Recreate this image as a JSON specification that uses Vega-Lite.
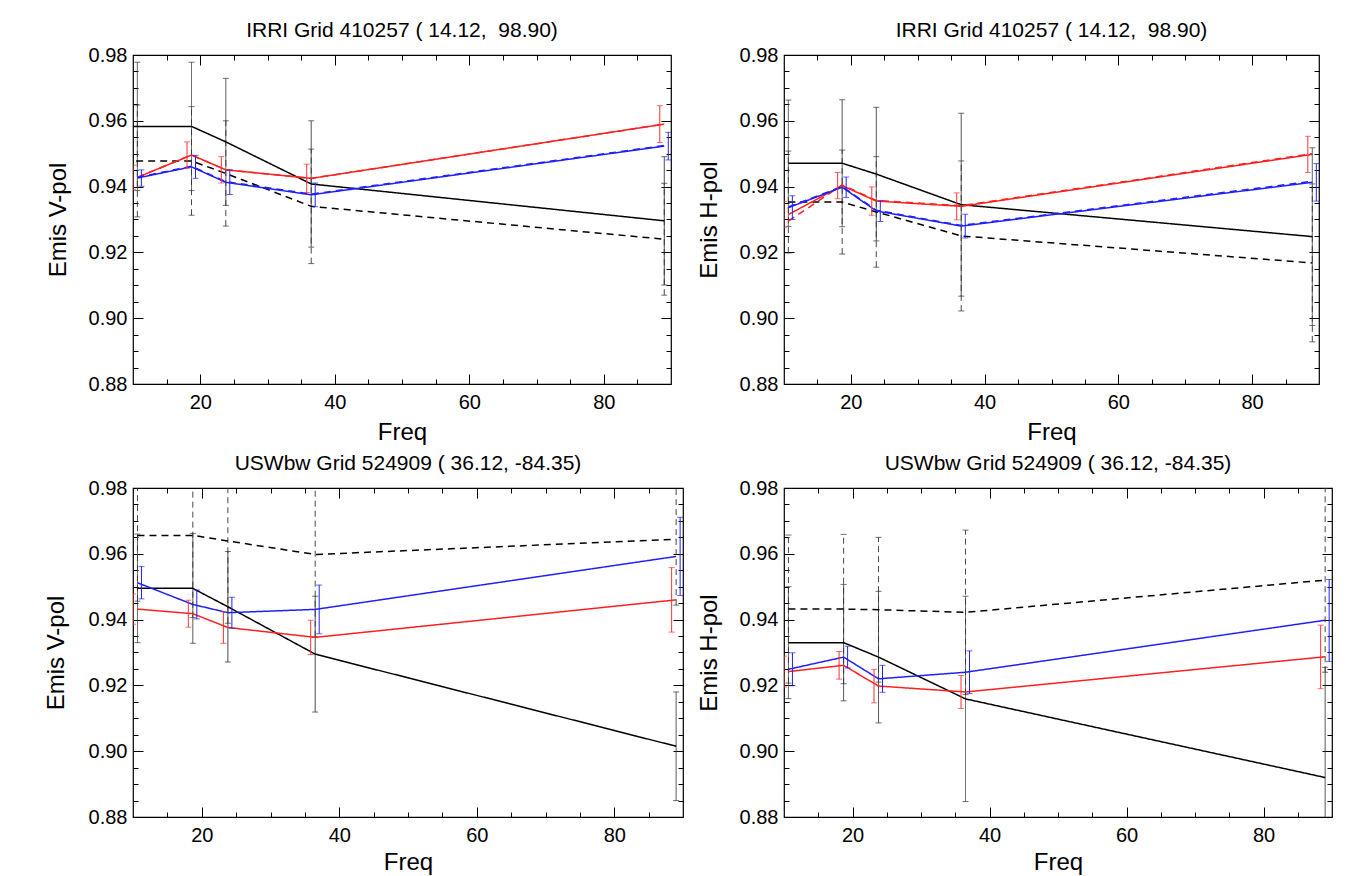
{
"$schema": "https://vega.github.io/schema/vega-lite/v6.json",
"background": "white",
"padding": {"left": 43, "top": 19, "right": 0, "bottom": 0},
"config": {
  "view": {"stroke": "#000", "strokeWidth": 1.2},
  "axis": {"domain": false, "grid": false, "tickColor": "#000", "tickWidth": 1, "labelFont": "Liberation Sans", "labelFontSize": 20, "labelColor": "#000", "titleFont": "Liberation Sans", "titleFontSize": 24, "titleFontWeight": "normal", "titleColor": "#000", "labelOverlap": false, "labelFlush": false},
  "title": {"font": "Liberation Sans", "fontSize": 21, "fontWeight": "normal", "color": "#000", "offset": 0}
},
"data": {"values": [
{"p":"TL","s":"ks","f":6.9,"v":0.9583},
{"p":"TL","s":"ks","f":10.65,"v":0.9583,"lo":0.9388,"hi":0.9778},
{"p":"TL","s":"ks","f":18.7,"v":0.9583,"lo":0.9388,"hi":0.9778},
{"p":"TL","s":"ks","f":23.8,"v":0.9536,"lo":0.9343,"hi":0.9729},
{"p":"TL","s":"ks","f":36.5,"v":0.9408,"lo":0.9216,"hi":0.96},
{"p":"TL","s":"ks","f":89,"v":0.9296,"lo":0.9101,"hi":0.9491},
{"p":"TL","s":"kd","f":6.9,"v":0.9478},
{"p":"TL","s":"kd","f":10.65,"v":0.9478,"lo":0.9308,"hi":0.9648},
{"p":"TL","s":"kd","f":18.7,"v":0.9478,"lo":0.9313,"hi":0.9643},
{"p":"TL","s":"kd","f":23.8,"v":0.944,"lo":0.928,"hi":0.96},
{"p":"TL","s":"kd","f":36.5,"v":0.934,"lo":0.9166,"hi":0.9514},
{"p":"TL","s":"kd","f":89,"v":0.924,"lo":0.907,"hi":0.941},
{"p":"TL","s":"rs","f":10.65,"v":0.9428,"lo":0.9391,"hi":0.9465},
{"p":"TL","s":"rs","f":18.7,"v":0.9496,"lo":0.9456,"hi":0.9536},
{"p":"TL","s":"rs","f":23.8,"v":0.9451,"lo":0.9411,"hi":0.9491},
{"p":"TL","s":"rs","f":36.5,"v":0.9425,"lo":0.9382,"hi":0.9468},
{"p":"TL","s":"rs","f":89,"v":0.959,"lo":0.9534,"hi":0.9646},
{"p":"TL","s":"rd","f":10.65,"v":0.9428},
{"p":"TL","s":"rd","f":18.7,"v":0.9496},
{"p":"TL","s":"rd","f":23.8,"v":0.9451},
{"p":"TL","s":"rd","f":36.5,"v":0.9425},
{"p":"TL","s":"rd","f":89,"v":0.959},
{"p":"TL","s":"bs","f":10.65,"v":0.9426,"lo":0.9401,"hi":0.9451},
{"p":"TL","s":"bs","f":18.7,"v":0.946,"lo":0.9425,"hi":0.9495},
{"p":"TL","s":"bs","f":23.8,"v":0.9413,"lo":0.9376,"hi":0.945},
{"p":"TL","s":"bs","f":36.5,"v":0.9375,"lo":0.9339,"hi":0.9411},
{"p":"TL","s":"bs","f":89,"v":0.9523,"lo":0.9481,"hi":0.9565},
{"p":"TL","s":"bd","f":10.65,"v":0.9428},
{"p":"TL","s":"bd","f":18.7,"v":0.9462},
{"p":"TL","s":"bd","f":23.8,"v":0.9415},
{"p":"TL","s":"bd","f":36.5,"v":0.9377},
{"p":"TL","s":"bd","f":89,"v":0.9525},

{"p":"TR","s":"ks","f":10.65,"v":0.9471,"lo":0.9279,"hi":0.9663},
{"p":"TR","s":"ks","f":18.7,"v":0.9471,"lo":0.9278,"hi":0.9664},
{"p":"TR","s":"ks","f":23.8,"v":0.9438,"lo":0.9235,"hi":0.9641},
{"p":"TR","s":"ks","f":36.5,"v":0.9345,"lo":0.9067,"hi":0.9623},
{"p":"TR","s":"ks","f":89,"v":0.9248,"lo":0.8978,"hi":0.9518},
{"p":"TR","s":"kd","f":10.65,"v":0.9353,"lo":0.9198,"hi":0.9508},
{"p":"TR","s":"kd","f":18.7,"v":0.9353,"lo":0.9195,"hi":0.9511},
{"p":"TR","s":"kd","f":23.8,"v":0.9323,"lo":0.9155,"hi":0.9491},
{"p":"TR","s":"kd","f":36.5,"v":0.925,"lo":0.9022,"hi":0.9478},
{"p":"TR","s":"kd","f":89,"v":0.9168,"lo":0.8928,"hi":0.9408},
{"p":"TR","s":"rs","f":10.65,"v":0.9315,"lo":0.9275,"hi":0.9355},
{"p":"TR","s":"rs","f":18.7,"v":0.9403,"lo":0.9363,"hi":0.9443},
{"p":"TR","s":"rs","f":23.8,"v":0.9356,"lo":0.9313,"hi":0.9399},
{"p":"TR","s":"rs","f":36.5,"v":0.934,"lo":0.9299,"hi":0.9381},
{"p":"TR","s":"rs","f":89,"v":0.9498,"lo":0.9443,"hi":0.9553},
{"p":"TR","s":"rd","f":10.65,"v":0.9295},
{"p":"TR","s":"rd","f":18.7,"v":0.9405},
{"p":"TR","s":"rd","f":23.8,"v":0.9358},
{"p":"TR","s":"rd","f":36.5,"v":0.9342},
{"p":"TR","s":"rd","f":89,"v":0.95},
{"p":"TR","s":"bs","f":10.65,"v":0.9336,"lo":0.93,"hi":0.9372},
{"p":"TR","s":"bs","f":18.7,"v":0.9398,"lo":0.9367,"hi":0.9429},
{"p":"TR","s":"bs","f":23.8,"v":0.9326,"lo":0.9294,"hi":0.9358},
{"p":"TR","s":"bs","f":36.5,"v":0.928,"lo":0.9244,"hi":0.9316},
{"p":"TR","s":"bs","f":89,"v":0.9413,"lo":0.9356,"hi":0.947},
{"p":"TR","s":"bd","f":10.65,"v":0.9338},
{"p":"TR","s":"bd","f":18.7,"v":0.94},
{"p":"TR","s":"bd","f":23.8,"v":0.9328},
{"p":"TR","s":"bd","f":36.5,"v":0.9282},
{"p":"TR","s":"bd","f":89,"v":0.9416},

{"p":"BL","s":"ks","f":10.65,"v":0.9495,"lo":0.933,"hi":0.966},
{"p":"BL","s":"ks","f":18.7,"v":0.9495,"lo":0.9328,"hi":0.9662},
{"p":"BL","s":"ks","f":23.8,"v":0.9439,"lo":0.9271,"hi":0.9607},
{"p":"BL","s":"ks","f":36.5,"v":0.9295,"lo":0.9119,"hi":0.9471},
{"p":"BL","s":"ks","f":89,"v":0.9015,"lo":0.885,"hi":0.918},
{"p":"BL","s":"kd","f":10.65,"v":0.9656,"lo":0.9456,"hi":0.9856},
{"p":"BL","s":"kd","f":18.7,"v":0.9656,"lo":0.9406,"hi":0.9906},
{"p":"BL","s":"kd","f":23.8,"v":0.9639,"lo":0.9389,"hi":0.9889},
{"p":"BL","s":"kd","f":36.5,"v":0.9598,"lo":0.9348,"hi":0.9848},
{"p":"BL","s":"kd","f":89,"v":0.9644,"lo":0.9444,"hi":0.9844},
{"p":"BL","s":"rs","f":10.65,"v":0.9432,"lo":0.9386,"hi":0.9478},
{"p":"BL","s":"rs","f":18.7,"v":0.9418,"lo":0.9377,"hi":0.9459},
{"p":"BL","s":"rs","f":23.8,"v":0.9376,"lo":0.9328,"hi":0.9424},
{"p":"BL","s":"rs","f":36.5,"v":0.9346,"lo":0.9294,"hi":0.9398},
{"p":"BL","s":"rs","f":89,"v":0.946,"lo":0.9362,"hi":0.9558},
{"p":"BL","s":"bs","f":10.65,"v":0.9512,"lo":0.9463,"hi":0.9561},
{"p":"BL","s":"bs","f":18.7,"v":0.9446,"lo":0.9402,"hi":0.949},
{"p":"BL","s":"bs","f":23.8,"v":0.9421,"lo":0.9374,"hi":0.9468},
{"p":"BL","s":"bs","f":36.5,"v":0.9431,"lo":0.9357,"hi":0.9505},
{"p":"BL","s":"bs","f":89,"v":0.9592,"lo":0.9473,"hi":0.9711},

{"p":"BR","s":"ks","f":10.65,"v":0.933,"lo":0.916,"hi":0.95},
{"p":"BR","s":"ks","f":18.7,"v":0.933,"lo":0.9153,"hi":0.9507},
{"p":"BR","s":"ks","f":23.8,"v":0.9286,"lo":0.9086,"hi":0.9486},
{"p":"BR","s":"ks","f":36.5,"v":0.9159,"lo":0.8847,"hi":0.9471},
{"p":"BR","s":"ks","f":89,"v":0.892,"lo":0.8585,"hi":0.9255},
{"p":"BR","s":"kd","f":10.65,"v":0.9432,"lo":0.9207,"hi":0.9657},
{"p":"BR","s":"kd","f":18.7,"v":0.9432,"lo":0.9205,"hi":0.9659},
{"p":"BR","s":"kd","f":23.8,"v":0.943,"lo":0.921,"hi":0.965},
{"p":"BR","s":"kd","f":36.5,"v":0.9422,"lo":0.9172,"hi":0.9672},
{"p":"BR","s":"kd","f":89,"v":0.952,"lo":0.924,"hi":0.98},
{"p":"BR","s":"rs","f":10.65,"v":0.9242,"lo":0.9195,"hi":0.9289},
{"p":"BR","s":"rs","f":18.7,"v":0.9261,"lo":0.9219,"hi":0.9303},
{"p":"BR","s":"rs","f":23.8,"v":0.9198,"lo":0.9147,"hi":0.9249},
{"p":"BR","s":"rs","f":36.5,"v":0.918,"lo":0.913,"hi":0.923},
{"p":"BR","s":"rs","f":89,"v":0.9287,"lo":0.919,"hi":0.9383},
{"p":"BR","s":"bs","f":10.65,"v":0.9249,"lo":0.9199,"hi":0.9299},
{"p":"BR","s":"bs","f":18.7,"v":0.9286,"lo":0.9253,"hi":0.9319},
{"p":"BR","s":"bs","f":23.8,"v":0.922,"lo":0.9179,"hi":0.9261},
{"p":"BR","s":"bs","f":36.5,"v":0.924,"lo":0.9175,"hi":0.9305},
{"p":"BR","s":"bs","f":89,"v":0.9398,"lo":0.9273,"hi":0.9522}
]},
"columns": 2,
"align": "none",
"spacing": {"row": 7, "column": 11},
"concat": [
{
 "width": 538, "height": 329,
 "title": "IRRI Grid 410257 ( 14.12, \u00a098.90)",
 "transform": [{"filter": "datum.p == 'TL'"}],
 "resolve": {"axis": {"x": "independent", "y": "independent"}},
 "layer": [
  {"transform": [{"filter": "(datum.s == 'ks' || datum.s == 'kd') && isValid(datum.lo)"}],
   "mark": {"type": "rule", "clip": true, "strokeWidth": 0.9, "color": "#333333"},
   "encoding": {
    "x": {"field": "f", "type": "quantitative", "scale": {"domain": [10, 90], "nice": false, "zero": false}, "axis": {"orient": "top", "values": [15,20,25,30,35,40,45,50,55,60,65,70,75,80,85], "tickSize": {"condition": {"test": "datum.value % 20 == 0", "value": -10}, "value": -5}, "labels": false, "title": null}},
    "y": {"field": "lo", "type": "quantitative", "scale": {"domain": [0.88, 0.98], "nice": false, "zero": false}, "axis": {"orient": "right", "values": [0.885,0.89,0.895,0.9,0.905,0.91,0.915,0.92,0.925,0.93,0.935,0.94,0.945,0.95,0.955,0.96,0.965,0.97,0.975], "tickSize": {"condition": {"test": "round(datum.value*1000) % 20 == 0", "value": -10}, "value": -5}, "labels": false, "title": null}},
    "y2": {"field": "hi"},
    "strokeDash": {"condition": {"test": "datum.s == 'kd'", "value": [6, 4]}, "value": [1, 0]}
   }},
  {"transform": [{"filter": "(datum.s == 'ks' || datum.s == 'kd') && isValid(datum.lo)"}, {"fold": ["lo", "hi"], "as": ["side", "e"]}],
   "mark": {"type": "tick", "orient": "horizontal", "clip": true, "size": 6, "thickness": 1, "color": "#333333"},
   "encoding": {
    "x": {"field": "f", "type": "quantitative", "scale": {"domain": [10, 90], "nice": false, "zero": false}, "axis": null},
    "y": {"field": "e", "type": "quantitative", "scale": {"domain": [0.88, 0.98], "nice": false, "zero": false}, "axis": null}
   }},
  {"mark": {"type": "line", "clip": true, "strokeWidth": 1.5},
   "encoding": {
    "x": {"field": "f", "type": "quantitative", "scale": {"domain": [10, 90], "nice": false, "zero": false}, "axis": {"orient": "bottom", "values": [15,20,25,30,35,40,45,50,55,60,65,70,75,80,85], "tickSize": {"condition": {"test": "datum.value % 20 == 0", "value": -10}, "value": -5}, "labelExpr": "datum.value % 20 == 0 ? datum.label : ''", "labelPadding": 18, "title": "Freq", "titlePadding": 3}},
    "y": {"field": "v", "type": "quantitative", "scale": {"domain": [0.88, 0.98], "nice": false, "zero": false}, "axis": {"orient": "left", "values": [0.88,0.885,0.89,0.895,0.9,0.905,0.91,0.915,0.92,0.925,0.93,0.935,0.94,0.945,0.95,0.955,0.96,0.965,0.97,0.975,0.98], "tickSize": {"condition": {"test": "round(datum.value*1000) % 20 == 0", "value": -10}, "value": -5}, "labelExpr": "round(datum.value*1000) % 20 == 0 ? format(datum.value, '.2f') : ''", "labelPadding": 16, "title": "Emis V-pol", "titlePadding": 18}},
    "color": {"field": "s", "type": "nominal", "scale": {"domain": ["ks","kd","rs","rd","bs","bd"], "range": ["#000000","#000000","#ff2020","#ff2020","#2020ff","#2020ff"]}, "legend": null},
    "strokeDash": {"field": "s", "type": "nominal", "scale": {"domain": ["ks","kd","rs","rd","bs","bd"], "range": [[1,0],[7,5],[1,0],[7,5],[1,0],[7,5]]}, "legend": null}
   }},
  {"transform": [{"filter": "datum.s == 'rs' && isValid(datum.lo)"}],
   "mark": {"type": "rule", "clip": true, "strokeWidth": 1, "color": "#ff3030", "xOffset": -4.5},
   "encoding": {
    "x": {"field": "f", "type": "quantitative", "scale": {"domain": [10, 90], "nice": false, "zero": false}, "axis": null},
    "y": {"field": "lo", "type": "quantitative", "scale": {"domain": [0.88, 0.98], "nice": false, "zero": false}, "axis": null},
    "y2": {"field": "hi"}
   }},
  {"transform": [{"filter": "datum.s == 'rs' && isValid(datum.lo)"}, {"fold": ["lo", "hi"], "as": ["side", "e"]}],
   "mark": {"type": "tick", "orient": "horizontal", "clip": true, "size": 6, "thickness": 1, "color": "#ff3030", "xOffset": -4.5},
   "encoding": {
    "x": {"field": "f", "type": "quantitative", "scale": {"domain": [10, 90], "nice": false, "zero": false}, "axis": null},
    "y": {"field": "e", "type": "quantitative", "scale": {"domain": [0.88, 0.98], "nice": false, "zero": false}, "axis": null}
   }},
  {"transform": [{"filter": "datum.s == 'bs' && isValid(datum.lo)"}],
   "mark": {"type": "rule", "clip": true, "strokeWidth": 1, "color": "#2020ff", "xOffset": 4},
   "encoding": {
    "x": {"field": "f", "type": "quantitative", "scale": {"domain": [10, 90], "nice": false, "zero": false}, "axis": null},
    "y": {"field": "lo", "type": "quantitative", "scale": {"domain": [0.88, 0.98], "nice": false, "zero": false}, "axis": null},
    "y2": {"field": "hi"}
   }},
  {"transform": [{"filter": "datum.s == 'bs' && isValid(datum.lo)"}, {"fold": ["lo", "hi"], "as": ["side", "e"]}],
   "mark": {"type": "tick", "orient": "horizontal", "clip": true, "size": 6, "thickness": 1, "color": "#2020ff", "xOffset": 4},
   "encoding": {
    "x": {"field": "f", "type": "quantitative", "scale": {"domain": [10, 90], "nice": false, "zero": false}, "axis": null},
    "y": {"field": "e", "type": "quantitative", "scale": {"domain": [0.88, 0.98], "nice": false, "zero": false}, "axis": null}
   }}
 ]
},
{
 "width": 535, "height": 329,
 "title": "IRRI Grid 410257 ( 14.12, \u00a098.90)",
 "transform": [{"filter": "datum.p == 'TR'"}],
 "resolve": {"axis": {"x": "independent", "y": "independent"}},
 "layer": [
  {"transform": [{"filter": "(datum.s == 'ks' || datum.s == 'kd') && isValid(datum.lo)"}],
   "mark": {"type": "rule", "clip": true, "strokeWidth": 0.9, "color": "#333333"},
   "encoding": {
    "x": {"field": "f", "type": "quantitative", "scale": {"domain": [10, 90], "nice": false, "zero": false}, "axis": {"orient": "top", "values": [15,20,25,30,35,40,45,50,55,60,65,70,75,80,85], "tickSize": {"condition": {"test": "datum.value % 20 == 0", "value": -10}, "value": -5}, "labels": false, "title": null}},
    "y": {"field": "lo", "type": "quantitative", "scale": {"domain": [0.88, 0.98], "nice": false, "zero": false}, "axis": {"orient": "right", "values": [0.885,0.89,0.895,0.9,0.905,0.91,0.915,0.92,0.925,0.93,0.935,0.94,0.945,0.95,0.955,0.96,0.965,0.97,0.975], "tickSize": {"condition": {"test": "round(datum.value*1000) % 20 == 0", "value": -10}, "value": -5}, "labels": false, "title": null}},
    "y2": {"field": "hi"},
    "strokeDash": {"condition": {"test": "datum.s == 'kd'", "value": [6, 4]}, "value": [1, 0]}
   }},
  {"transform": [{"filter": "(datum.s == 'ks' || datum.s == 'kd') && isValid(datum.lo)"}, {"fold": ["lo", "hi"], "as": ["side", "e"]}],
   "mark": {"type": "tick", "orient": "horizontal", "clip": true, "size": 6, "thickness": 1, "color": "#333333"},
   "encoding": {
    "x": {"field": "f", "type": "quantitative", "scale": {"domain": [10, 90], "nice": false, "zero": false}, "axis": null},
    "y": {"field": "e", "type": "quantitative", "scale": {"domain": [0.88, 0.98], "nice": false, "zero": false}, "axis": null}
   }},
  {"mark": {"type": "line", "clip": true, "strokeWidth": 1.5},
   "encoding": {
    "x": {"field": "f", "type": "quantitative", "scale": {"domain": [10, 90], "nice": false, "zero": false}, "axis": {"orient": "bottom", "values": [15,20,25,30,35,40,45,50,55,60,65,70,75,80,85], "tickSize": {"condition": {"test": "datum.value % 20 == 0", "value": -10}, "value": -5}, "labelExpr": "datum.value % 20 == 0 ? datum.label : ''", "labelPadding": 18, "title": "Freq", "titlePadding": 3}},
    "y": {"field": "v", "type": "quantitative", "scale": {"domain": [0.88, 0.98], "nice": false, "zero": false}, "axis": {"orient": "left", "values": [0.88,0.885,0.89,0.895,0.9,0.905,0.91,0.915,0.92,0.925,0.93,0.935,0.94,0.945,0.95,0.955,0.96,0.965,0.97,0.975,0.98], "tickSize": {"condition": {"test": "round(datum.value*1000) % 20 == 0", "value": -10}, "value": -5}, "labelExpr": "round(datum.value*1000) % 20 == 0 ? format(datum.value, '.2f') : ''", "labelPadding": 16, "title": "Emis H-pol", "titlePadding": 18}},
    "color": {"field": "s", "type": "nominal", "scale": {"domain": ["ks","kd","rs","rd","bs","bd"], "range": ["#000000","#000000","#ff2020","#ff2020","#2020ff","#2020ff"]}, "legend": null},
    "strokeDash": {"field": "s", "type": "nominal", "scale": {"domain": ["ks","kd","rs","rd","bs","bd"], "range": [[1,0],[7,5],[1,0],[7,5],[1,0],[7,5]]}, "legend": null}
   }},
  {"transform": [{"filter": "datum.s == 'rs' && isValid(datum.lo)"}],
   "mark": {"type": "rule", "clip": true, "strokeWidth": 1, "color": "#ff3030", "xOffset": -4.5},
   "encoding": {
    "x": {"field": "f", "type": "quantitative", "scale": {"domain": [10, 90], "nice": false, "zero": false}, "axis": null},
    "y": {"field": "lo", "type": "quantitative", "scale": {"domain": [0.88, 0.98], "nice": false, "zero": false}, "axis": null},
    "y2": {"field": "hi"}
   }},
  {"transform": [{"filter": "datum.s == 'rs' && isValid(datum.lo)"}, {"fold": ["lo", "hi"], "as": ["side", "e"]}],
   "mark": {"type": "tick", "orient": "horizontal", "clip": true, "size": 6, "thickness": 1, "color": "#ff3030", "xOffset": -4.5},
   "encoding": {
    "x": {"field": "f", "type": "quantitative", "scale": {"domain": [10, 90], "nice": false, "zero": false}, "axis": null},
    "y": {"field": "e", "type": "quantitative", "scale": {"domain": [0.88, 0.98], "nice": false, "zero": false}, "axis": null}
   }},
  {"transform": [{"filter": "datum.s == 'bs' && isValid(datum.lo)"}],
   "mark": {"type": "rule", "clip": true, "strokeWidth": 1, "color": "#2020ff", "xOffset": 4},
   "encoding": {
    "x": {"field": "f", "type": "quantitative", "scale": {"domain": [10, 90], "nice": false, "zero": false}, "axis": null},
    "y": {"field": "lo", "type": "quantitative", "scale": {"domain": [0.88, 0.98], "nice": false, "zero": false}, "axis": null},
    "y2": {"field": "hi"}
   }},
  {"transform": [{"filter": "datum.s == 'bs' && isValid(datum.lo)"}, {"fold": ["lo", "hi"], "as": ["side", "e"]}],
   "mark": {"type": "tick", "orient": "horizontal", "clip": true, "size": 6, "thickness": 1, "color": "#2020ff", "xOffset": 4},
   "encoding": {
    "x": {"field": "f", "type": "quantitative", "scale": {"domain": [10, 90], "nice": false, "zero": false}, "axis": null},
    "y": {"field": "e", "type": "quantitative", "scale": {"domain": [0.88, 0.98], "nice": false, "zero": false}, "axis": null}
   }}
 ]
},
{
 "width": 550, "height": 329,
 "title": "USWbw Grid 524909 ( 36.12, -84.35)",
 "transform": [{"filter": "datum.p == 'BL'"}],
 "resolve": {"axis": {"x": "independent", "y": "independent"}},
 "layer": [
  {"transform": [{"filter": "(datum.s == 'ks' || datum.s == 'kd') && isValid(datum.lo)"}],
   "mark": {"type": "rule", "clip": true, "strokeWidth": 0.9, "color": "#333333"},
   "encoding": {
    "x": {"field": "f", "type": "quantitative", "scale": {"domain": [10, 90], "nice": false, "zero": false}, "axis": {"orient": "top", "values": [15,20,25,30,35,40,45,50,55,60,65,70,75,80,85], "tickSize": {"condition": {"test": "datum.value % 20 == 0", "value": -10}, "value": -5}, "labels": false, "title": null}},
    "y": {"field": "lo", "type": "quantitative", "scale": {"domain": [0.88, 0.98], "nice": false, "zero": false}, "axis": {"orient": "right", "values": [0.885,0.89,0.895,0.9,0.905,0.91,0.915,0.92,0.925,0.93,0.935,0.94,0.945,0.95,0.955,0.96,0.965,0.97,0.975], "tickSize": {"condition": {"test": "round(datum.value*1000) % 20 == 0", "value": -10}, "value": -5}, "labels": false, "title": null}},
    "y2": {"field": "hi"},
    "strokeDash": {"condition": {"test": "datum.s == 'kd'", "value": [6, 4]}, "value": [1, 0]}
   }},
  {"transform": [{"filter": "(datum.s == 'ks' || datum.s == 'kd') && isValid(datum.lo)"}, {"fold": ["lo", "hi"], "as": ["side", "e"]}],
   "mark": {"type": "tick", "orient": "horizontal", "clip": true, "size": 6, "thickness": 1, "color": "#333333"},
   "encoding": {
    "x": {"field": "f", "type": "quantitative", "scale": {"domain": [10, 90], "nice": false, "zero": false}, "axis": null},
    "y": {"field": "e", "type": "quantitative", "scale": {"domain": [0.88, 0.98], "nice": false, "zero": false}, "axis": null}
   }},
  {"mark": {"type": "line", "clip": true, "strokeWidth": 1.5},
   "encoding": {
    "x": {"field": "f", "type": "quantitative", "scale": {"domain": [10, 90], "nice": false, "zero": false}, "axis": {"orient": "bottom", "values": [15,20,25,30,35,40,45,50,55,60,65,70,75,80,85], "tickSize": {"condition": {"test": "datum.value % 20 == 0", "value": -10}, "value": -5}, "labelExpr": "datum.value % 20 == 0 ? datum.label : ''", "labelPadding": 18, "title": "Freq", "titlePadding": 0}},
    "y": {"field": "v", "type": "quantitative", "scale": {"domain": [0.88, 0.98], "nice": false, "zero": false}, "axis": {"orient": "left", "values": [0.88,0.885,0.89,0.895,0.9,0.905,0.91,0.915,0.92,0.925,0.93,0.935,0.94,0.945,0.95,0.955,0.96,0.965,0.97,0.975,0.98], "tickSize": {"condition": {"test": "round(datum.value*1000) % 20 == 0", "value": -10}, "value": -5}, "labelExpr": "round(datum.value*1000) % 20 == 0 ? format(datum.value, '.2f') : ''", "labelPadding": 16, "title": "Emis V-pol", "titlePadding": 20}},
    "color": {"field": "s", "type": "nominal", "scale": {"domain": ["ks","kd","rs","rd","bs","bd"], "range": ["#000000","#000000","#ff2020","#ff2020","#2020ff","#2020ff"]}, "legend": null},
    "strokeDash": {"field": "s", "type": "nominal", "scale": {"domain": ["ks","kd","rs","rd","bs","bd"], "range": [[1,0],[7,5],[1,0],[7,5],[1,0],[7,5]]}, "legend": null}
   }},
  {"transform": [{"filter": "datum.s == 'rs' && isValid(datum.lo)"}],
   "mark": {"type": "rule", "clip": true, "strokeWidth": 1, "color": "#ff3030", "xOffset": -4.5},
   "encoding": {
    "x": {"field": "f", "type": "quantitative", "scale": {"domain": [10, 90], "nice": false, "zero": false}, "axis": null},
    "y": {"field": "lo", "type": "quantitative", "scale": {"domain": [0.88, 0.98], "nice": false, "zero": false}, "axis": null},
    "y2": {"field": "hi"}
   }},
  {"transform": [{"filter": "datum.s == 'rs' && isValid(datum.lo)"}, {"fold": ["lo", "hi"], "as": ["side", "e"]}],
   "mark": {"type": "tick", "orient": "horizontal", "clip": true, "size": 6, "thickness": 1, "color": "#ff3030", "xOffset": -4.5},
   "encoding": {
    "x": {"field": "f", "type": "quantitative", "scale": {"domain": [10, 90], "nice": false, "zero": false}, "axis": null},
    "y": {"field": "e", "type": "quantitative", "scale": {"domain": [0.88, 0.98], "nice": false, "zero": false}, "axis": null}
   }},
  {"transform": [{"filter": "datum.s == 'bs' && isValid(datum.lo)"}],
   "mark": {"type": "rule", "clip": true, "strokeWidth": 1, "color": "#2020ff", "xOffset": 4},
   "encoding": {
    "x": {"field": "f", "type": "quantitative", "scale": {"domain": [10, 90], "nice": false, "zero": false}, "axis": null},
    "y": {"field": "lo", "type": "quantitative", "scale": {"domain": [0.88, 0.98], "nice": false, "zero": false}, "axis": null},
    "y2": {"field": "hi"}
   }},
  {"transform": [{"filter": "datum.s == 'bs' && isValid(datum.lo)"}, {"fold": ["lo", "hi"], "as": ["side", "e"]}],
   "mark": {"type": "tick", "orient": "horizontal", "clip": true, "size": 6, "thickness": 1, "color": "#2020ff", "xOffset": 4},
   "encoding": {
    "x": {"field": "f", "type": "quantitative", "scale": {"domain": [10, 90], "nice": false, "zero": false}, "axis": null},
    "y": {"field": "e", "type": "quantitative", "scale": {"domain": [0.88, 0.98], "nice": false, "zero": false}, "axis": null}
   }}
 ]
},
{
 "width": 548, "height": 329,
 "title": "USWbw Grid 524909 ( 36.12, -84.35)",
 "transform": [{"filter": "datum.p == 'BR'"}],
 "resolve": {"axis": {"x": "independent", "y": "independent"}},
 "layer": [
  {"transform": [{"filter": "(datum.s == 'ks' || datum.s == 'kd') && isValid(datum.lo)"}],
   "mark": {"type": "rule", "clip": true, "strokeWidth": 0.9, "color": "#333333"},
   "encoding": {
    "x": {"field": "f", "type": "quantitative", "scale": {"domain": [10, 90], "nice": false, "zero": false}, "axis": {"orient": "top", "values": [15,20,25,30,35,40,45,50,55,60,65,70,75,80,85], "tickSize": {"condition": {"test": "datum.value % 20 == 0", "value": -10}, "value": -5}, "labels": false, "title": null}},
    "y": {"field": "lo", "type": "quantitative", "scale": {"domain": [0.88, 0.98], "nice": false, "zero": false}, "axis": {"orient": "right", "values": [0.885,0.89,0.895,0.9,0.905,0.91,0.915,0.92,0.925,0.93,0.935,0.94,0.945,0.95,0.955,0.96,0.965,0.97,0.975], "tickSize": {"condition": {"test": "round(datum.value*1000) % 20 == 0", "value": -10}, "value": -5}, "labels": false, "title": null}},
    "y2": {"field": "hi"},
    "strokeDash": {"condition": {"test": "datum.s == 'kd'", "value": [6, 4]}, "value": [1, 0]}
   }},
  {"transform": [{"filter": "(datum.s == 'ks' || datum.s == 'kd') && isValid(datum.lo)"}, {"fold": ["lo", "hi"], "as": ["side", "e"]}],
   "mark": {"type": "tick", "orient": "horizontal", "clip": true, "size": 6, "thickness": 1, "color": "#333333"},
   "encoding": {
    "x": {"field": "f", "type": "quantitative", "scale": {"domain": [10, 90], "nice": false, "zero": false}, "axis": null},
    "y": {"field": "e", "type": "quantitative", "scale": {"domain": [0.88, 0.98], "nice": false, "zero": false}, "axis": null}
   }},
  {"mark": {"type": "line", "clip": true, "strokeWidth": 1.5},
   "encoding": {
    "x": {"field": "f", "type": "quantitative", "scale": {"domain": [10, 90], "nice": false, "zero": false}, "axis": {"orient": "bottom", "values": [15,20,25,30,35,40,45,50,55,60,65,70,75,80,85], "tickSize": {"condition": {"test": "datum.value % 20 == 0", "value": -10}, "value": -5}, "labelExpr": "datum.value % 20 == 0 ? datum.label : ''", "labelPadding": 18, "title": "Freq", "titlePadding": 0}},
    "y": {"field": "v", "type": "quantitative", "scale": {"domain": [0.88, 0.98], "nice": false, "zero": false}, "axis": {"orient": "left", "values": [0.88,0.885,0.89,0.895,0.9,0.905,0.91,0.915,0.92,0.925,0.93,0.935,0.94,0.945,0.95,0.955,0.96,0.965,0.97,0.975,0.98], "tickSize": {"condition": {"test": "round(datum.value*1000) % 20 == 0", "value": -10}, "value": -5}, "labelExpr": "round(datum.value*1000) % 20 == 0 ? format(datum.value, '.2f') : ''", "labelPadding": 16, "title": "Emis H-pol", "titlePadding": 18}},
    "color": {"field": "s", "type": "nominal", "scale": {"domain": ["ks","kd","rs","rd","bs","bd"], "range": ["#000000","#000000","#ff2020","#ff2020","#2020ff","#2020ff"]}, "legend": null},
    "strokeDash": {"field": "s", "type": "nominal", "scale": {"domain": ["ks","kd","rs","rd","bs","bd"], "range": [[1,0],[7,5],[1,0],[7,5],[1,0],[7,5]]}, "legend": null}
   }},
  {"transform": [{"filter": "datum.s == 'rs' && isValid(datum.lo)"}],
   "mark": {"type": "rule", "clip": true, "strokeWidth": 1, "color": "#ff3030", "xOffset": -4.5},
   "encoding": {
    "x": {"field": "f", "type": "quantitative", "scale": {"domain": [10, 90], "nice": false, "zero": false}, "axis": null},
    "y": {"field": "lo", "type": "quantitative", "scale": {"domain": [0.88, 0.98], "nice": false, "zero": false}, "axis": null},
    "y2": {"field": "hi"}
   }},
  {"transform": [{"filter": "datum.s == 'rs' && isValid(datum.lo)"}, {"fold": ["lo", "hi"], "as": ["side", "e"]}],
   "mark": {"type": "tick", "orient": "horizontal", "clip": true, "size": 6, "thickness": 1, "color": "#ff3030", "xOffset": -4.5},
   "encoding": {
    "x": {"field": "f", "type": "quantitative", "scale": {"domain": [10, 90], "nice": false, "zero": false}, "axis": null},
    "y": {"field": "e", "type": "quantitative", "scale": {"domain": [0.88, 0.98], "nice": false, "zero": false}, "axis": null}
   }},
  {"transform": [{"filter": "datum.s == 'bs' && isValid(datum.lo)"}],
   "mark": {"type": "rule", "clip": true, "strokeWidth": 1, "color": "#2020ff", "xOffset": 4},
   "encoding": {
    "x": {"field": "f", "type": "quantitative", "scale": {"domain": [10, 90], "nice": false, "zero": false}, "axis": null},
    "y": {"field": "lo", "type": "quantitative", "scale": {"domain": [0.88, 0.98], "nice": false, "zero": false}, "axis": null},
    "y2": {"field": "hi"}
   }},
  {"transform": [{"filter": "datum.s == 'bs' && isValid(datum.lo)"}, {"fold": ["lo", "hi"], "as": ["side", "e"]}],
   "mark": {"type": "tick", "orient": "horizontal", "clip": true, "size": 6, "thickness": 1, "color": "#2020ff", "xOffset": 4},
   "encoding": {
    "x": {"field": "f", "type": "quantitative", "scale": {"domain": [10, 90], "nice": false, "zero": false}, "axis": null},
    "y": {"field": "e", "type": "quantitative", "scale": {"domain": [0.88, 0.98], "nice": false, "zero": false}, "axis": null}
   }}
 ]
}
]
}
